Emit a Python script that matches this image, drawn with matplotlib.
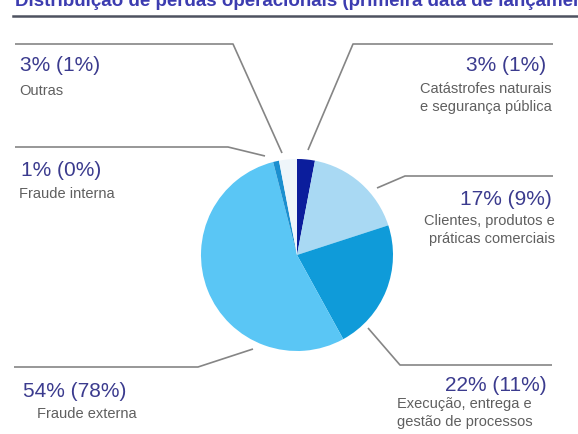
import matplotlib.pyplot as plt

# Loss distribution by event type: share of count (share of amount)
categories = [['Catástrofes naturais', 'e segurança pública'],
              ['Clientes, produtos e', 'práticas comerciais'],
              ['Execução, entrega e', 'gestão de processos'],
              ['Fraude externa'],
              ['Fraude interna'],
              ['Outras']]
count_share = [3, 17, 22, 54, 1, 3]
amount_share = [1, 9, 11, 78, 0, 1]
colors = ['#0b1d9c', '#a9d9f3', '#0f9bd9', '#5ac6f5', '#1b8fcf', '#eef5fa']

title = 'Distribuição de perdas operacionais (primeira data de lançamento)'

# text layout in pixel space: percentage (x, baseline, ha), label (x, first baseline, ha)
pct_pos = [(546, 71, 'right'), (552, 205, 'right'), (547, 391, 'right'),
           (23, 397, 'left'), (21, 176, 'left'), (20, 71, 'left')]
lab_pos = [(552, 93, 'right'), (555, 225, 'right'), (397, 408, 'left'),
           (37, 418, 'left'), (19, 198, 'left'), (19, 95, 'left')]
line_step = 18

# leader lines: outer end, elbow, pie end
leaders = [
    [(553, 44), (353, 44), (308, 150)],
    [(553, 176), (405, 176), (377, 188)],
    [(552, 365), (400, 365), (368, 328)],
    [(14, 367), (198, 367), (253, 349)],
    [(15, 147), (228, 147), (265, 156)],
    [(15, 44), (233, 44), (282, 153)],
]

W, H = 578, 434
plt.rcParams['font.family'] = ['Liberation Sans', 'DejaVu Sans']
fig = plt.figure(figsize=(W / 100, H / 100), dpi=100)
ax = fig.add_axes([0, 0, 1, 1])

# y axis is flipped, so counterclock=True runs clockwise on screen
ax.pie(count_share, colors=colors, center=(297, 255), radius=96,
       startangle=-90, counterclock=True, frame=True,
       wedgeprops=dict(linewidth=0))
ax.set_xlim(0, W)
ax.set_ylim(H, 0)
ax.set_aspect('equal')
ax.axis('off')

for pts in leaders:
    xs = [p[0] for p in pts]
    ys = [p[1] for p in pts]
    ax.plot(xs, ys, color='#858585', lw=1.2, solid_capstyle='butt')

for lines, c, a, (px, py, pha), (lx, ly, lha) in zip(categories, count_share,
                                                       amount_share, pct_pos, lab_pos):
    ax.text(px, py, f'{c}% ({a}%)', ha=pha, va='baseline',
            fontsize=15, color='#3b3b8e')
    for i, line in enumerate(lines):
        ax.text(lx, ly + i * line_step, line, ha=lha, va='baseline',
                fontsize=10.5, color='#5f5f5f')

# heading, mostly above the top edge
ax.text(15, 6, title, ha='left', va='baseline', fontsize=13.5,
        fontweight='bold', color='#3c3cb0', clip_on=False)
ax.plot([13, W], [16, 16], color='#4e5260', lw=1.8)

fig.savefig('out.png', dpi=100)
